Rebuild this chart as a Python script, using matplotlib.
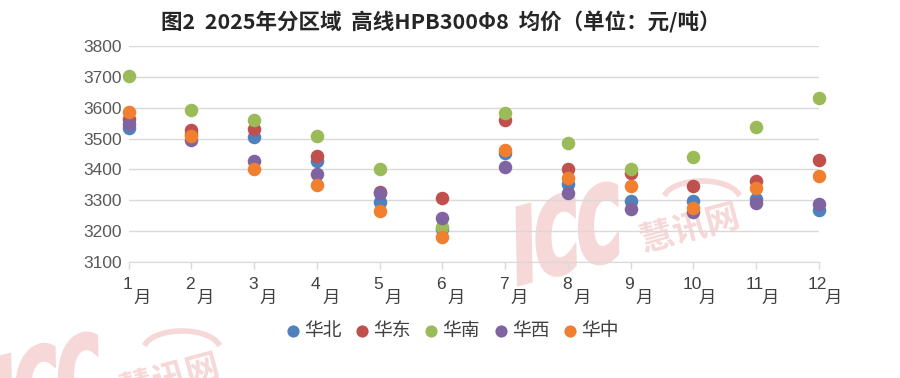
import numpy as np
import matplotlib.pyplot as plt
from matplotlib.transforms import blended_transform_factory, offset_copy, Affine2D, IdentityTransform
from matplotlib.textpath import TextPath
from matplotlib.font_manager import FontProperties
from matplotlib.patches import PathPatch

plt.rcParams['font.family'] = ['Noto Sans CJK SC', 'DejaVu Sans']

months = np.arange(1, 13)
month_labels = [str(m) for m in months]

# 均价 (元/吨)
huabei = [3535, 3515, 3504, 3427, 3293, 3207, 3452, 3352, 3298, 3298, 3304, 3267]
huadong = [3565, 3528, 3531, 3445, 3326, 3308, 3561, 3402, 3389, 3346, 3363, 3432]
huanan = [3703, 3592, 3562, 3509, 3400, 3214, 3583, 3486, 3400, 3442, 3537, 3633]
huaxi = [3549, 3495, 3427, 3386, 3323, 3243, 3408, 3323, 3273, 3262, 3290, 3289]
huazhong = [3587, 3510, 3403, 3349, 3264, 3182, 3464, 3373, 3346, 3275, 3339, 3378]

series = [("华北", huabei, "#4f81bd"),
          ("华东", huadong, "#c0504d"),
          ("华南", huanan, "#9bbb59"),
          ("华西", huaxi, "#8064a2"),
          ("华中", huazhong, "#f07f30")]

W, H = 900, 378
fig = plt.figure(figsize=(9, 3.78), dpi=100)
ax = fig.add_axes([0.143, 0.307, 0.767, 0.571])
ax.patch.set_visible(False)

# watermark (pixel coords, origin top-left)
wm_col = "#f6d8d8"
icc_path = TextPath((0, 0), "ICC", size=100, prop=FontProperties(family="DejaVu Sans", weight="bold"))
cn_path = TextPath((0, 0), "慧讯网", size=34, prop=FontProperties(family="Noto Sans CJK SC", weight="bold"))


def watermark(x0, y0):
    t1 = Affine2D().scale(0.6, 1).skew_deg(14, 0).rotate_deg(15).translate(x0 + 2, H - y0 + 2)
    fig.patches.append(PathPatch(t1.transform_path(icc_path), fc=wm_col, ec=wm_col, lw=3.5,
                                 transform=IdentityTransform(), zorder=-1))
    t2 = Affine2D().rotate_deg(15).translate(x0 + 131, H - y0 + 35)
    fig.patches.append(PathPatch(t2.transform_path(cn_path), fc=wm_col, ec="none",
                                 transform=IdentityTransform(), zorder=-1))
    th = np.linspace(np.pi * 0.9, np.pi * 0.1, 30)
    ax_x = x0 + 190 + 38 * np.cos(th)
    ax_y = H - y0 + 88 + 18 * np.sin(th)
    fig.lines.append(plt.Line2D(ax_x, ax_y, color=wm_col, lw=4, transform=IdentityTransform(), zorder=-1))


watermark(512, 287)
watermark(-8, 437)

for name, vals, col in series:
    ax.scatter(months, vals, s=95, color=col, label=name, zorder=3, linewidths=0, clip_on=False)

ax.set_xlim(1, 12)
ax.set_ylim(3100, 3800)
ax.set_yticks(np.arange(3100, 3801, 100))
ax.yaxis.grid(True, color="#d9d9d9", linewidth=1)
ax.set_axisbelow(True)
for s in ["top", "right", "left"]:
    ax.spines[s].set_visible(False)
ax.spines["bottom"].set_color("#d9d9d9")
ax.spines["bottom"].set_zorder(1)
ax.tick_params(axis="y", length=0, labelsize=12.5, labelcolor="#595959", pad=5)
ax.tick_params(axis="x", length=5, color="#d9d9d9", width=1)
ax.set_xticks(months)
ax.set_xticklabels([])
for t in ax.get_yticklabels():
    t.set_family(["Liberation Sans", "DejaVu Sans"])

# x labels: number raised, 月 set lower to the right
trans = blended_transform_factory(ax.transData, ax.transAxes)
for m, lab in zip(months, month_labels):
    ax.text(m, 0, lab, transform=offset_copy(trans, fig=fig, x=-1, y=-16, units="points"),
            ha="center", va="center", fontsize=12.5, color="#404040",
            family=["Liberation Sans", "DejaVu Sans"])
    ax.text(m, 0, "月", transform=offset_copy(trans, fig=fig, x=10, y=-26, units="points"),
            ha="center", va="center", fontsize=12.5, color="#404040")

fig.text(0.49, 0.94, "图2  2025年分区域  高线HPB300Φ8  均价（单位：元/吨）",
         ha="center", va="center", fontsize=15.5, fontweight="bold", color="#262626")

leg = fig.legend(loc="center", bbox_to_anchor=(0.5, 0.125), ncol=5, frameon=False,
                 fontsize=13.5, handletextpad=0.0, columnspacing=0.5, markerscale=0.9,
                 handlelength=1.2)
for t in leg.get_texts():
    t.set_color("#404040")

fig.savefig("out.png", dpi=100)
